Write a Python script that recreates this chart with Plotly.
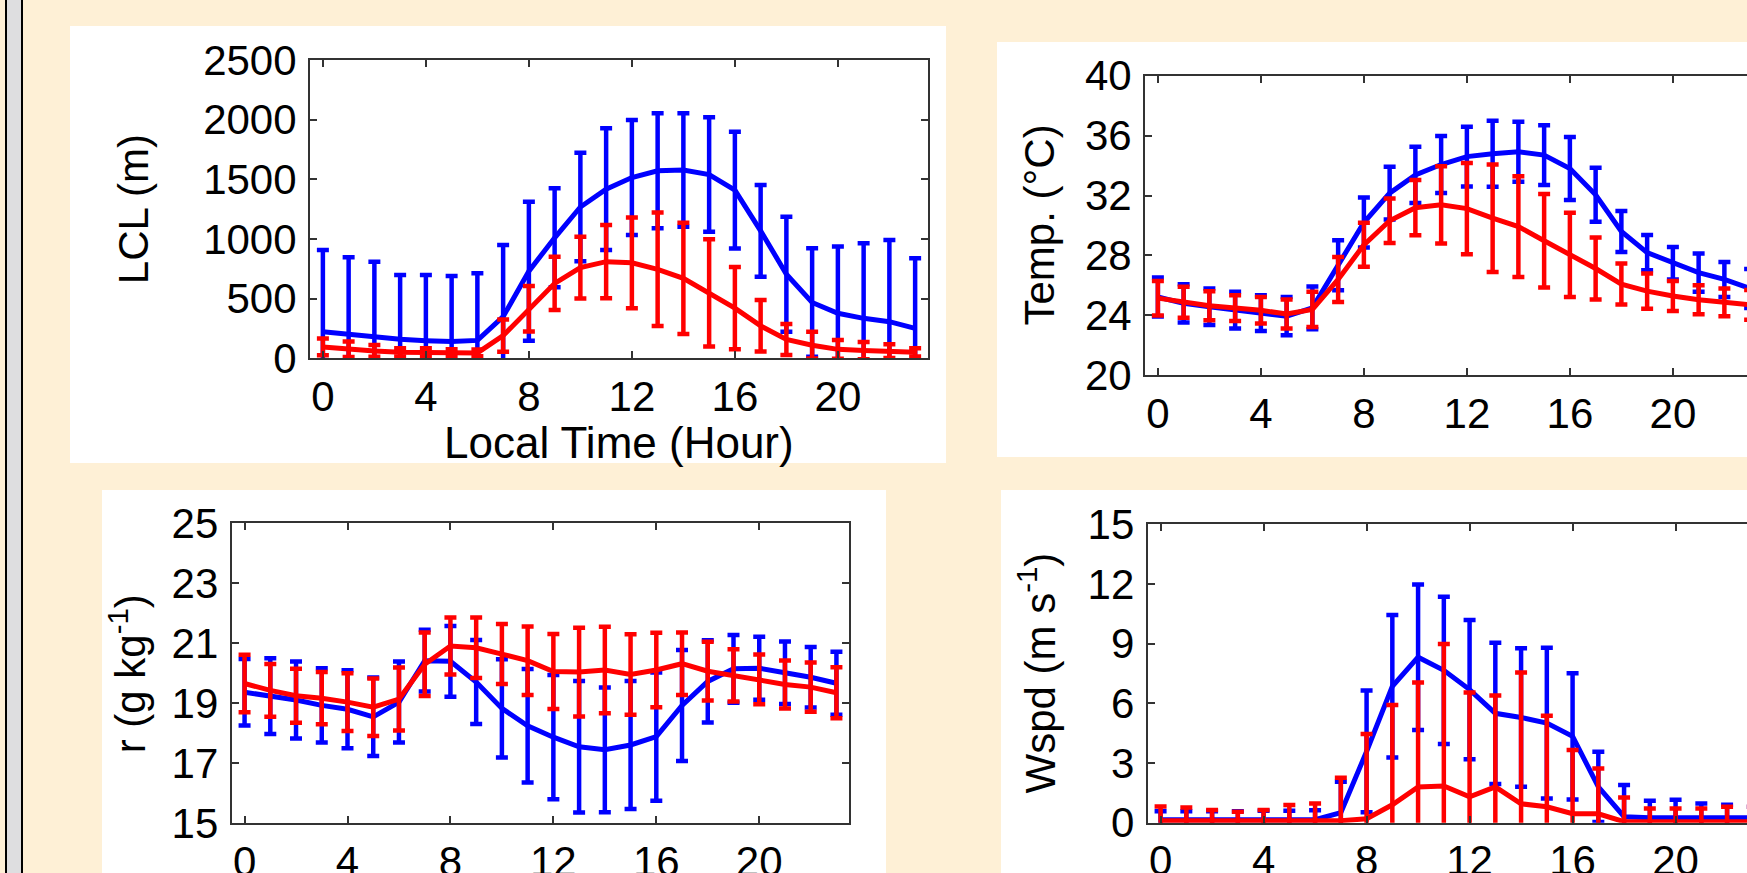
import plotly.graph_objects as go

# Hour of day (local time)
hours = list(range(24))

# Lifting condensation level (m): mean and standard deviation
lcl_blue_mean = [223, 201, 182, 159, 148, 140, 150, 349, 730, 1010, 1268, 1417,
                 1515, 1571, 1578, 1540, 1410, 1068, 705, 468, 377, 335, 307, 251]
lcl_blue_std = [685, 645, 628, 539, 550, 550, 562, 600, 583, 415, 455, 510,
                482, 482, 475, 480, 489, 385, 482, 454, 559, 629, 685, 587]
lcl_red_mean = [95, 75, 62, 50, 48, 45, 45, 190, 415, 628, 760, 810,
                800, 746, 670, 548, 420, 272, 158, 110, 75, 65, 60, 50]
lcl_red_std = [70, 65, 50, 35, 36, 30, 28, 135, 190, 223, 258, 307,
               380, 475, 466, 450, 345, 216, 130, 112, 78, 72, 57, 35]

# 2-m temperature (deg C)
temp_blue_mean = [25.23, 24.8, 24.57, 24.35, 24.15, 23.95, 24.5, 27.35, 30.2, 32.16, 33.38, 34.07,
                  34.6, 34.79, 34.92, 34.7, 33.8, 32.05, 29.6, 28.19, 27.48, 26.85, 26.4, 25.8]
temp_blue_std = [1.3, 1.28, 1.22, 1.22, 1.2, 1.28, 1.42, 1.67, 1.67, 1.76, 1.87, 1.9,
                 2.0, 2.2, 2.0, 2.0, 2.1, 1.8, 1.37, 1.17, 1.09, 1.28, 1.17, 1.3]
temp_red_mean = [25.15, 24.88, 24.64, 24.49, 24.34, 24.09, 24.4, 26.4, 28.71, 30.32, 31.19, 31.38,
                 31.13, 30.49, 29.93, 28.98, 28.04, 27.13, 26.09, 25.62, 25.3, 25.04, 24.87, 24.7]
temp_red_std = [1.15, 1.03, 0.97, 0.86, 0.89, 0.97, 1.17, 1.5, 1.47, 1.48, 1.84, 2.58,
                3.05, 3.59, 3.36, 3.12, 2.81, 2.07, 1.37, 1.17, 1.0, 0.97, 0.92, 1.0]

# Water vapour mixing ratio (g/kg)
r_blue_mean = [19.37, 19.24, 19.11, 18.93, 18.8, 18.55, 19.04, 20.42, 20.4, 19.71, 18.83, 18.25,
               17.87, 17.55, 17.45, 17.61, 17.89, 18.93, 19.73, 20.15, 20.17, 20.02, 19.87, 19.67]
r_blue_std = [1.11, 1.26, 1.28, 1.24, 1.3, 1.31, 1.35, 1.03, 1.18, 1.4, 1.64, 1.89,
              2.07, 2.19, 2.08, 2.13, 2.14, 1.85, 1.37, 1.13, 1.05, 1.04, 1.01, 1.05]
r_red_mean = [19.66, 19.43, 19.25, 19.17, 19.04, 18.87, 19.14, 20.3, 20.91, 20.85, 20.64, 20.42,
              20.06, 20.04, 20.11, 19.96, 20.11, 20.32, 20.07, 19.93, 19.8, 19.63, 19.54, 19.35]
r_red_std = [0.96, 0.88, 0.9, 0.87, 0.96, 0.96, 1.05, 1.06, 0.95, 1.01, 1.0, 1.14,
             1.25, 1.48, 1.44, 1.34, 1.24, 1.04, 0.98, 0.87, 0.83, 0.8, 0.82, 0.85]

# Wind speed (m/s)
wspd_blue_mean = [0.15, 0.15, 0.15, 0.15, 0.15, 0.15, 0.15, 0.5, 3.58, 6.86, 8.32, 7.66,
                  6.69, 5.5, 5.29, 5.01, 4.34, 1.8, 0.3, 0.25, 0.25, 0.25, 0.25, 0.25]
wspd_blue_std = [0.42, 0.42, 0.42, 0.42, 0.45, 0.45, 0.48, 1.56, 3.06, 3.58, 3.66, 3.7,
                 3.5, 3.55, 3.48, 3.79, 3.17, 1.77, 1.6, 0.85, 0.9, 0.72, 0.65, 0.55]
wspd_red_mean = [0.1, 0.12, 0.1, 0.1, 0.1, 0.1, 0.1, 0.1, 0.2, 0.9, 1.8, 1.85,
                 1.3, 1.8, 0.95, 0.8, 0.45, 0.45, 0.05, 0.05, 0.05, 0.05, 0.05, 0.05]
wspd_red_std = [0.72, 0.65, 0.54, 0.45, 0.54, 0.79, 0.87, 2.16, 4.26, 5.02, 5.25, 7.13,
                5.24, 4.6, 6.6, 4.58, 3.2, 2.28, 1.22, 0.67, 0.67, 0.67, 0.75, 0.75]

x_ticks = [0, 4, 8, 12, 16, 20]
lcl_ticks = [0, 500, 1000, 1500, 2000, 2500]
temp_ticks = [20, 24, 28, 32, 36, 40]
r_ticks = [15, 17, 19, 21, 23, 25]
wspd_ticks = [0, 3, 6, 9, 12, 15]

W, H = 1747, 873
BLUE = "#0000FF"
RED = "#FF0000"
CREAM = "#FEF0D6"
FONT = "Liberation Sans"
FS = 42


def fx(x):
    return x / W


def fy(y):
    return 1 - y / H


# Each panel: axis box in pixels, white card behind it, data and ranges
panels = [
    dict(n="", box=(310, 60, 928, 358.3), card=(70, 26, 946, 463),
         xr=[-0.5, 23.5], yr=[0, 2500], yt=lcl_ticks, closed=True,
         data=(lcl_blue_mean, lcl_blue_std, lcl_red_mean, lcl_red_std),
         ylab="LCL (m)", ylab_x=133),
    dict(n="2", box=(1145, 75.7, 1747, 375.3), card=(997, 42, 1747, 457),
         xr=[-0.5, -0.5 + (1747 - 1145) / 25.75], yr=[20, 40], yt=temp_ticks, closed=False,
         data=(temp_blue_mean, temp_blue_std, temp_red_mean, temp_red_std),
         ylab="Temp. (°C)", ylab_x=1039),
    dict(n="3", box=(231.7, 523.3, 849.3, 823.3), card=(102, 490, 886, 873),
         xr=[-0.5, 23.5], yr=[15, 25], yt=r_ticks, closed=True,
         data=(r_blue_mean, r_blue_std, r_red_mean, r_red_std),
         ylab="r (g kg<sup>-1</sup>)", ylab_x=128),
    dict(n="4", box=(1147.7, 524.3, 1747, 822.7), card=(1001, 490, 1747, 873),
         xr=[-0.5, -0.5 + (1747 - 1147.7) / 25.75], yr=[0, 15], yt=wspd_ticks, closed=False,
         data=(wspd_blue_mean, wspd_blue_std, wspd_red_mean, wspd_red_std),
         ylab="Wspd (m s<sup>-1</sup>)", ylab_x=1037),
]

fig = go.Figure()
shapes = []
annotations = []
layout = {}

# Left window strip
shapes.append(dict(type="rect", xref="paper", yref="paper", x0=fx(5), x1=fx(23), y0=0, y1=1,
                   fillcolor="#000000", line=dict(width=0), layer="below"))
shapes.append(dict(type="rect", xref="paper", yref="paper", x0=fx(7), x1=fx(21), y0=0, y1=1,
                   fillcolor="#DEDEE0", line=dict(width=0), layer="below"))

for p in panels:
    n = p["n"]
    x0, y0, x1, y1 = p["box"]
    cx0, cy0, cx1, cy1 = p["card"]
    shapes.append(dict(type="rect", xref="paper", yref="paper",
                       x0=fx(cx0), x1=fx(cx1), y0=fy(cy1), y1=fy(cy0),
                       fillcolor="white", line=dict(width=0), layer="below"))

    common = dict(showgrid=False, zeroline=False, showline=True, linecolor="#333333", linewidth=2,
                  ticks="inside", ticklen=7, tickwidth=1.5, tickcolor="#333333",
                  tickfont=dict(family=FONT, size=FS, color="black"), fixedrange=True,
                  automargin=False)
    layout["xaxis" + n] = dict(common, domain=[fx(x0), fx(x1)], range=p["xr"],
                               tickvals=x_ticks, anchor="y" + n,
                               mirror="allticks", ticklabelstandoff=0)
    layout["yaxis" + n] = dict(common, domain=[fy(y1), fy(y0)], range=p["yr"],
                               tickvals=p["yt"], anchor="x" + n,
                               mirror="allticks" if p["closed"] else False,
                               ticklabelstandoff=3)

    bm, bs, rm, rs = p["data"]
    for mean, std, col in ((bm, bs, BLUE), (rm, rs, RED)):
        fig.add_trace(go.Scatter(
            x=hours, y=mean, mode="lines",
            line=dict(color=col, width=5),
            error_y=dict(type="data", array=std, visible=True, color=col,
                         thickness=4.5, width=6),
            xaxis="x" + n, yaxis="y" + n, showlegend=False, hoverinfo="skip"))

    annotations.append(dict(text=p["ylab"], xref="paper", yref="paper",
                            x=fx(p["ylab_x"]), y=fy((y0 + y1) / 2),
                            xanchor="center", yanchor="middle", textangle=-90,
                            showarrow=False, font=dict(family=FONT, size=FS, color="black")))

annotations.append(dict(text="Local Time (Hour)", xref="paper", yref="paper",
                        x=fx(619), y=fy(442), xanchor="center", yanchor="middle",
                        showarrow=False, font=dict(family=FONT, size=44, color="black")))

fig.update_layout(
    width=W, height=H, margin=dict(l=0, r=0, t=0, b=0),
    paper_bgcolor=CREAM, plot_bgcolor="white",
    shapes=shapes, annotations=annotations, showlegend=False,
    **layout,
)

fig.write_html("out.html")
